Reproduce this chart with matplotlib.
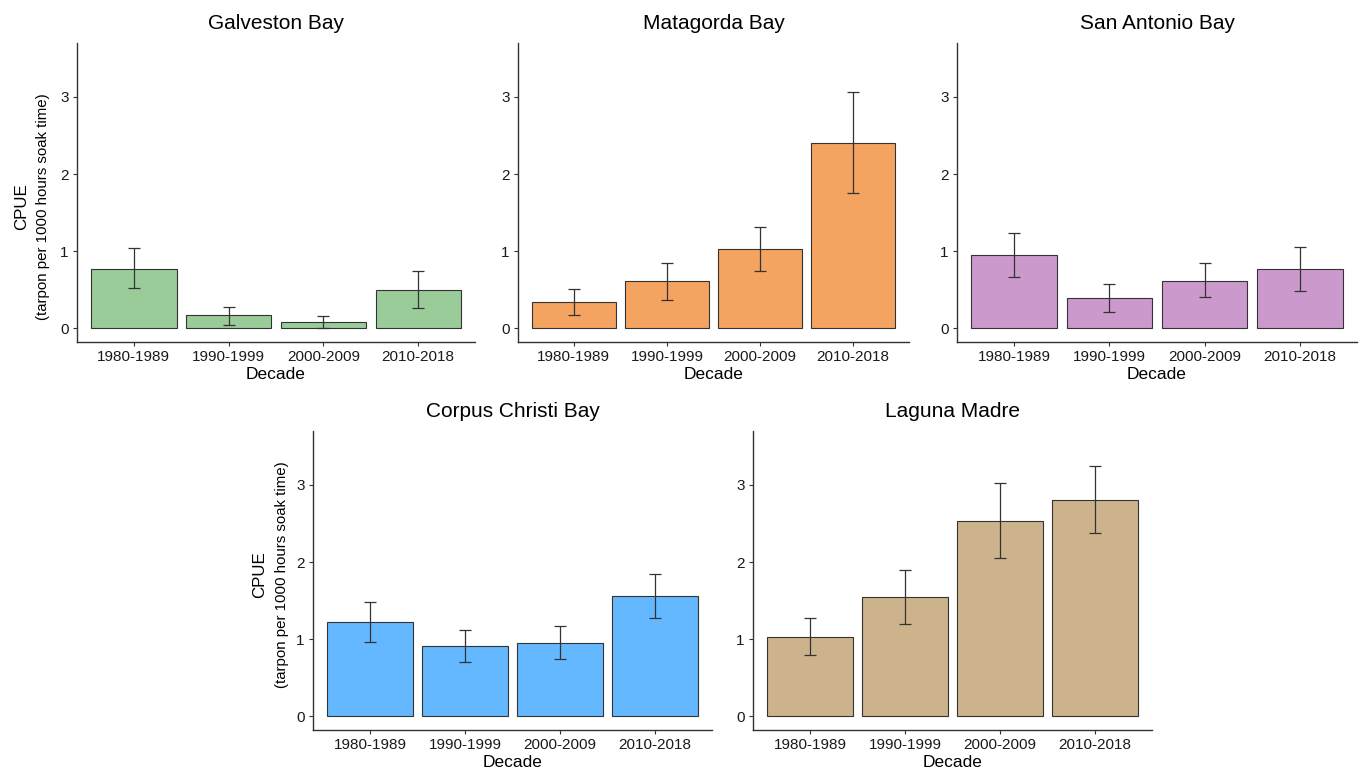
import numpy as np
import matplotlib
matplotlib.use('Agg')
import matplotlib.pyplot as plt

plt.rcParams['font.family'] = ['Liberation Sans', 'DejaVu Sans']

decades = ['1980-1989', '1990-1999', '2000-2009', '2010-2018']

galveston_mean = [0.77, 0.17, 0.086, 0.50]
galveston_low = [0.52, 0.05, 0.01, 0.27]
galveston_high = [1.04, 0.28, 0.16, 0.75]

matagorda_mean = [0.34, 0.61, 1.03, 2.41]
matagorda_low = [0.17, 0.37, 0.74, 1.76]
matagorda_high = [0.51, 0.85, 1.32, 3.07]

sanantonio_mean = [0.95, 0.39, 0.62, 0.77]
sanantonio_low = [0.67, 0.21, 0.41, 0.49]
sanantonio_high = [1.24, 0.57, 0.85, 1.05]

corpus_mean = [1.22, 0.91, 0.95, 1.56]
corpus_low = [0.96, 0.71, 0.74, 1.27]
corpus_high = [1.48, 1.12, 1.17, 1.85]

laguna_mean = [1.03, 1.55, 2.53, 2.81]
laguna_low = [0.79, 1.20, 2.05, 2.38]
laguna_high = [1.27, 1.90, 3.03, 3.24]

W, H = 1359, 769
fig = plt.figure(figsize=(W / 100, H / 100), dpi=100)

def px_axes(l, r, t, b):
    return fig.add_axes([l / W, 1 - b / H, (r - l) / W, (b - t) / H])

def panel(ax, title, mean, low, high, color):
    x = np.arange(1, len(decades) + 1)
    mean = np.array(mean)
    err = [mean - np.array(low), np.array(high) - mean]
    ax.bar(x, mean, width=0.9, color=color, edgecolor='#333333', linewidth=0.8)
    ax.errorbar(x, mean, yerr=err, fmt='none', ecolor='#333333',
                elinewidth=0.9, capsize=4.5, capthick=0.9)
    ax.set_xlim(0.4, 4.6)
    ax.set_ylim(-0.176, 3.70)
    ax.set_xticks(x)
    ax.set_xticklabels(decades)
    ax.set_yticks([0, 1, 2, 3])
    ax.tick_params(axis='both', labelsize=11, length=3, width=0.8,
                   color='#333333', labelcolor='#1a1a1a', pad=3)
    for s in ['top', 'right']:
        ax.spines[s].set_visible(False)
    for s in ['left', 'bottom']:
        ax.spines[s].set_color('#333333')
        ax.spines[s].set_linewidth(1.0)
    ax.set_title(title, fontsize=15, pad=10)
    ax.set_xlabel('Decade', fontsize=12.5, labelpad=2)

ax1 = px_axes(77, 475, 43, 342)
panel(ax1, 'Galveston Bay', galveston_mean, galveston_low, galveston_high, '#99CC99')
ax2 = px_axes(518, 909, 43, 342)
panel(ax2, 'Matagorda Bay', matagorda_mean, matagorda_low, matagorda_high, '#F4A460')
ax3 = px_axes(957, 1357, 43, 342)
panel(ax3, 'San Antonio Bay', sanantonio_mean, sanantonio_low, sanantonio_high, '#CC99CC')
ax4 = px_axes(313, 712, 431, 730)
panel(ax4, 'Corpus Christi Bay', corpus_mean, corpus_low, corpus_high, '#63B8FF')
ax5 = px_axes(753, 1152, 431, 730)
panel(ax5, 'Laguna Madre', laguna_mean, laguna_low, laguna_high, '#CDB38B')

# two-line y labels
for (cx1, cx2, cy) in [(22, 43, 207), (260, 282, 575)]:
    fig.text(cx1 / W, 1 - cy / H, 'CPUE', rotation=90, fontsize=12.2,
             ha='center', va='center')
    fig.text(cx2 / W, 1 - cy / H, '(tarpon per 1000 hours soak time)',
             rotation=90, fontsize=10.8, ha='center', va='center')

plt.savefig('out.png', dpi=100)
